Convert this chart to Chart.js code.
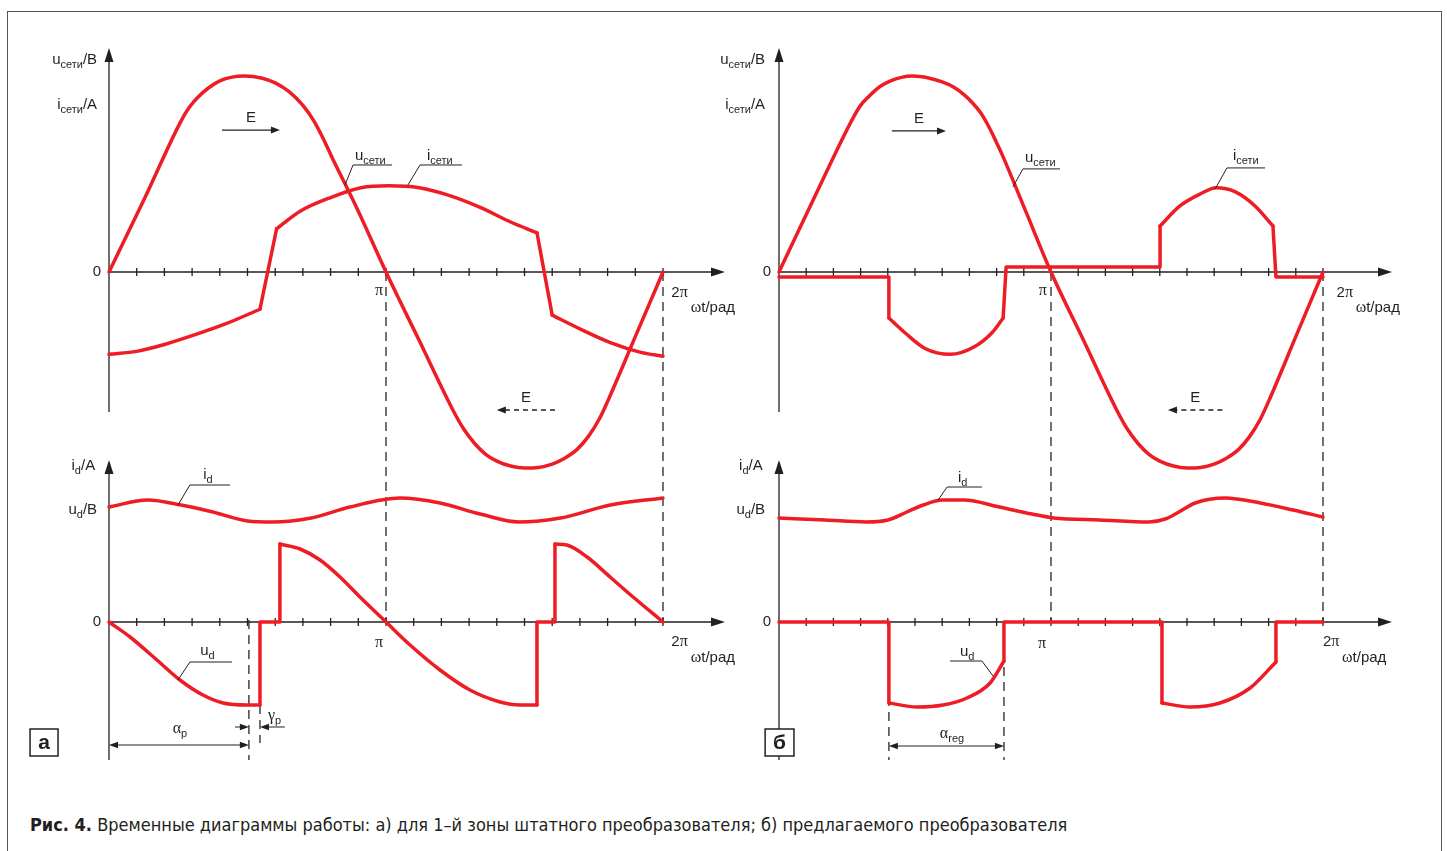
<!DOCTYPE html>
<html>
<head>
<meta charset="utf-8">
<script src="https://cdn.jsdelivr.net/npm/chart.js@4.4.1/dist/chart.umd.min.js"></script>
<style>
  body { margin: 0; background: #fff; width: 1447px; height: 851px; overflow: hidden; position: relative; }
  #frame { position: absolute; left: 7px; top: 11px; width: 1433px; height: 900px; border: 1px solid #555; }
  canvas { position: absolute; top: 0; }
  #cA { left: 0; }
  #cB { left: 700px; }
  #cap { position: absolute; left: 30px; top: 814px; font-family: "Liberation Sans Narrow", "DejaVu Sans Condensed", sans-serif; font-size: 18px; color: #231f20; white-space: nowrap; }
</style>
</head>
<body>
<div id="frame"></div>
<canvas id="cA" width="740" height="800"></canvas>
<canvas id="cB" width="740" height="800"></canvas>
<div id="cap"><b>Рис. 4.</b> Временные диаграммы работы: а) для 1–й зоны штатного преобразователя; б) предлагаемого преобразователя</div>

<script>
// x in units of pi (0..2 = 0..2π), top values relative to peak of u_сети, bottom in arbitrary units
// each series is a list of pieces; pieces join at their end points

// ---- panel а ----
const uNetA = [[[0,0],[0.13,0.38],[0.26,0.77],[0.29,0.84],[0.32,0.89],[0.36,0.94],[0.40,0.975],[0.44,0.993],[0.49,1.0],[0.55,0.99],[0.60,0.965],[0.65,0.92],[0.70,0.85],[0.74,0.77],[0.77,0.69],[0.80,0.60],[0.90,0.31],[1.0,0],
  [1.12,-0.35],[1.24,-0.70],[1.28,-0.80],[1.32,-0.875],[1.36,-0.93],[1.40,-0.965],[1.45,-0.99],[1.50,-1.0],[1.55,-0.997],[1.60,-0.98],[1.645,-0.95],[1.69,-0.905],[1.73,-0.84],[1.77,-0.75],[1.80,-0.66],[1.90,-0.33],[2.0,0]]];

const iNetA = [
  [[0,-0.42],[0.10,-0.405],[0.20,-0.37],[0.30,-0.325],[0.42,-0.265],[0.545,-0.19]],
  [[0.545,-0.19],[0.605,0.22]],
  [[0.605,0.22],[0.69,0.31],[0.80,0.38],[0.91,0.43],[1.01,0.44],[1.12,0.43],[1.23,0.39],[1.34,0.33],[1.45,0.255],[1.545,0.20]],
  [[1.545,0.20],[1.60,-0.22]],
  [[1.60,-0.22],[1.70,-0.29],[1.81,-0.36],[1.92,-0.41],[2.0,-0.43]]
];

const idA = [[[0,1.15],[0.14,1.22],[0.26,1.17],[0.375,1.10],[0.50,1.01],[0.59,1.0],[0.73,1.04],[0.87,1.15],[1.05,1.24],[1.195,1.19],[1.34,1.08],[1.48,1.0],[1.63,1.04],[1.81,1.17],[2.0,1.24]]];

const udA = [
  [[0,0],[0.076,-0.15],[0.173,-0.38],[0.256,-0.58],[0.339,-0.73],[0.412,-0.81],[0.498,-0.83],[0.545,-0.83]],
  [[0.545,-0.83],[0.545,0],[0.617,0],[0.617,0.78]],
  [[0.617,0.78],[0.69,0.73],[0.762,0.62],[0.834,0.45],[0.906,0.25],[1.0,0],[1.087,-0.23],[1.195,-0.48],[1.303,-0.68],[1.412,-0.80],[1.484,-0.83],[1.545,-0.83]],
  [[1.545,-0.83],[1.545,0],[1.61,0],[1.61,0.78]],
  [[1.61,0.78],[1.653,0.77],[1.726,0.65],[1.809,0.45],[1.892,0.25],[2.0,0]]
];

// ---- panel б ----
const uNetB = [[[0,0],[0.13,0.38],[0.27,0.78],[0.30,0.85],[0.33,0.895],[0.37,0.945],[0.41,0.975],[0.45,0.993],[0.49,1.0],[0.55,0.99],[0.60,0.97],[0.64,0.945],[0.68,0.905],[0.71,0.865],[0.74,0.815],[0.77,0.745],[0.80,0.66],[0.82,0.60],[0.91,0.30],[1.0,0],
  [1.12,-0.35],[1.24,-0.70],[1.28,-0.80],[1.32,-0.875],[1.36,-0.93],[1.40,-0.965],[1.45,-0.99],[1.50,-1.0],[1.55,-0.997],[1.60,-0.98],[1.645,-0.95],[1.69,-0.905],[1.73,-0.84],[1.77,-0.75],[1.80,-0.66],[1.90,-0.33],[2.0,0]]];

const iNetB = [
  [[0,-0.025],[0.404,-0.025],[0.404,-0.235]],
  [[0.404,-0.235],[0.463,-0.31],[0.537,-0.39],[0.629,-0.42],[0.72,-0.38],[0.783,-0.31],[0.824,-0.235]],
  [[0.824,-0.235],[0.835,0.025],[1.401,0.025],[1.401,0.235]],
  [[1.401,0.235],[1.474,0.337],[1.548,0.398],[1.607,0.43],[1.676,0.41],[1.75,0.337],[1.816,0.235]],
  [[1.816,0.235],[1.827,-0.025],[2.0,-0.025]]
];

const idB = [[[0,1.04],[0.17,1.02],[0.32,1.0],[0.40,1.02],[0.47,1.10],[0.53,1.17],[0.60,1.22],[0.68,1.22],[0.81,1.15],[0.93,1.08],[1.01,1.04],[1.18,1.02],[1.36,1.0],[1.42,1.03],[1.47,1.10],[1.53,1.19],[1.64,1.24],[1.77,1.19],[1.89,1.12],[2.0,1.05]]];

const udB = [
  [[0,0],[0.404,0],[0.404,-0.81]],
  [[0.404,-0.81],[0.507,-0.85],[0.603,-0.83],[0.691,-0.76],[0.776,-0.61],[0.827,-0.39]],
  [[0.827,-0.39],[0.827,0],[1.408,0],[1.408,-0.81]],
  [[1.408,-0.81],[1.511,-0.85],[1.621,-0.81],[1.732,-0.66],[1.827,-0.40]],
  [[1.827,-0.40],[1.827,0],[2.0,0]]
];

const xTicks = [0.1,0.2,0.3,0.4,0.5,0.6,0.7,0.8,0.9,1.0,1.1,1.2,1.3,1.4,1.5,1.6,1.7,1.8,1.9,2.0];
const piLabels = [[1, [['π','g']]], [2, [['2','n'],['π','g']]]];

const RED = '#ee1c25';
const INK = '#231f20';
const DASH = '#595959';
const SANS = '"Liberation Sans", Arial, sans-serif';
const SERIF = '"Liberation Serif", "Times New Roman", serif';

// canvas geometry: chart area rows 40..780, zero of top graph at 272, bottom graph at 622
const AREA_TOP = 40, AREA_BOT = 780;
const TOP_ZERO = 272, TOP_UNIT = 196, BOT_ZERO = 622, BOT_UNIT = 100;

const panelA = {
  canvas: 'cA', series: [uNetA, iNetA, idA, udA],
  left: 109, unit: 277, arrowEnd: 725, width: 740,
  axisLabels: [
    ['T', -0.043, 1.06, [['u','n'],['сети','s'],['/B','n']]],
    ['T', -0.043, 0.83, [['i','n'],['сети','s'],['/A','n']]],
    ['B', -0.05, 1.52, [['i','n'],['d','s'],['/A','n']]],
    ['B', -0.043, 1.08, [['u','n'],['d','s'],['/B','n']]]
  ],
  piPos: { T: [0.975, -0.117, 2.03, -0.128, 2.10, -0.204], B: [0.975, -0.25, 2.03, -0.24, 2.10, -0.40] },
  eArrows: [['T', 0.408, 0.617, 0.724, false], ['T', 1.61, 1.40, -0.704, true]],
  callouts: [
    ['T', 0.888, 0.571, [['u','n'],['сети','s']], [[0.852,0.444],[0.881,0.546],[1.022,0.546]]],
    ['T', 1.148, 0.571, [['i','n'],['сети','s']], [[1.079,0.444],[1.123,0.546],[1.274,0.546]]],
    ['B', 0.34, 1.43, [['i','n'],['d','s']], [[0.249,1.17],[0.292,1.37],[0.437,1.37]]],
    ['B', 0.329, -0.33, [['u','n'],['d','s']], [[0.249,-0.58],[0.292,-0.40],[0.444,-0.40]]]
  ],
  guides: [[0.505, 0.02, -1.38], [0.545, -0.83, -1.21]],
  dims: [[0, 0.505, -1.23, 0.256, -1.11, [['α','g'],['p','s']]]],
  gamma: { v: -1.05, a: [0.455, 0.505], b: [0.635, 0.545], x: 0.574, lv: -0.98, parts: [['γ','g'],['p','s']] },
  box: [-0.285, -0.184, -1.07, -1.34, 'а']
};

const panelB = {
  canvas: 'cB', series: [uNetB, iNetB, idB, udB],
  left: 79, unit: 272, arrowEnd: 692, width: 740,
  axisLabels: [
    ['T', -0.051, 1.06, [['u','n'],['сети','s'],['/B','n']]],
    ['T', -0.051, 0.83, [['i','n'],['сети','s'],['/A','n']]],
    ['B', -0.06, 1.52, [['i','n'],['d','s'],['/A','n']]],
    ['B', -0.051, 1.08, [['u','n'],['d','s'],['/B','n']]]
  ],
  piPos: { T: [0.97, -0.117, 2.05, -0.128, 2.12, -0.204], B: [0.967, -0.26, 2.0, -0.24, 2.07, -0.40] },
  eArrows: [['T', 0.415, 0.614, 0.72, false], ['T', 1.63, 1.43, -0.704, true]],
  callouts: [
    ['T', 0.904, 0.561, [['u','n'],['сети','s']], [[0.86,0.434],[0.897,0.526],[1.033,0.526]]],
    ['T', 1.669, 0.571, [['i','n'],['сети','s']], [[1.603,0.423],[1.647,0.531],[1.787,0.531]]],
    ['B', 0.658, 1.40, [['i','n'],['d','s']], [[0.585,1.22],[0.618,1.35],[0.746,1.35]]],
    ['B', 0.665, -0.34, [['u','n'],['d','s']], [[0.787,-0.54],[0.746,-0.39],[0.629,-0.39]]]
  ],
  guides: [[0.404, 0, -1.38], [0.827, 0, -1.38]],
  dims: [[0.404, 0.827, -1.24, 0.636, -1.16, [['α','g'],['reg','s']]]],
  gamma: null,
  box: [-0.051, 0.055, -1.07, -1.34, 'б']
};

function font(kind) {
  if (kind === 's') return '11px ' + SANS;
  if (kind === 'g') return '16px ' + SERIF;
  return '15px ' + SANS;
}

function rich(ctx, x, y, parts, align) {
  let w = 0;
  parts.forEach(p => { ctx.font = font(p[1]); w += ctx.measureText(p[0]).width; });
  let cx = align === 'right' ? x - w : align === 'center' ? x - w / 2 : x;
  parts.forEach(p => {
    ctx.font = font(p[1]);
    ctx.fillText(p[0], cx, y + (p[1] === 's' ? 4 : 0));
    cx += ctx.measureText(p[0]).width;
  });
}

function line(ctx, x1, y1, x2, y2) {
  ctx.beginPath(); ctx.moveTo(x1, y1); ctx.lineTo(x2, y2); ctx.stroke();
}

function head(ctx, x, y, dx, dy, len, hw) {
  ctx.beginPath();
  ctx.moveTo(x, y);
  ctx.lineTo(x - dx * len - dy * hw, y - dy * len + dx * hw);
  ctx.lineTo(x - dx * len + dy * hw, y - dy * len - dx * hw);
  ctx.closePath(); ctx.fill();
}

function panelPlugin(p) {
  return {
    id: 'panel',
    beforeDatasetsDraw(chart) {
      const ctx = chart.ctx, sc = chart.scales;
      const X = v => sc.x.getPixelForValue(v);
      const S = { T: v => sc.yT.getPixelForValue(v), B: v => sc.yB.getPixelForValue(v) };
      const xMax = sc.x.max;
      ctx.save();
      ctx.strokeStyle = DASH; ctx.lineWidth = 1.7; ctx.setLineDash([9, 6]);
      [1, 2].forEach(v => line(ctx, X(v), S.T(0), X(v), S.B(0)));
      p.guides.forEach(g => line(ctx, X(g[0]), S.B(g[1]), X(g[0]), S.B(g[2])));
      ctx.setLineDash([]);

      ctx.strokeStyle = INK; ctx.fillStyle = INK; ctx.lineWidth = 1.3;
      [['T', -0.714, 1.143], ['B', -1.38, 1.62]].forEach(([k, lo, hi]) => {
        const Y = S[k];
        line(ctx, X(0), Y(0), X(xMax) - 10, Y(0));
        head(ctx, X(xMax), Y(0), 1, 0, 14, 4.5);
        line(ctx, X(0), Y(lo), X(0), Y(hi) + 10);
        head(ctx, X(0), Y(hi), 0, -1, 14, 4.5);
        xTicks.forEach(t => line(ctx, X(t), Y(0) - 4, X(t), Y(0) + 4));
      });
      ctx.restore();
    },
    afterDatasetsDraw(chart) {
      const ctx = chart.ctx, sc = chart.scales;
      const X = v => sc.x.getPixelForValue(v);
      const S = { T: v => sc.yT.getPixelForValue(v), B: v => sc.yB.getPixelForValue(v) };
      ctx.save();
      ctx.fillStyle = INK; ctx.strokeStyle = INK; ctx.textBaseline = 'alphabetic'; ctx.textAlign = 'left';

      p.axisLabels.forEach(a => rich(ctx, X(a[1]), S[a[0]](a[2]), a[3], 'right'));
      ['T', 'B'].forEach(k => {
        const pp = p.piPos[k];
        ctx.textBaseline = 'middle';
        rich(ctx, X(0) - 8, S[k](0), [['0', 'n']], 'right');
        ctx.textBaseline = 'alphabetic';
        rich(ctx, X(pp[0]), S[k](pp[1]), piLabels[0][1], 'center');
        rich(ctx, X(pp[2]), S[k](pp[3]), piLabels[1][1], 'left');
        rich(ctx, X(pp[4]), S[k](pp[5]), [['ω', 'g'], ['t/рад', 'n']], 'left');
      });

      // E arrows
      p.eArrows.forEach(([k, x1, x2, v, dashed]) => {
        const y = S[k](v), dir = x2 > x1 ? 1 : -1;
        ctx.lineWidth = 1.3;
        ctx.setLineDash(dashed ? [5, 4] : []);
        line(ctx, X(x1), y, X(x2) - dir * 6, y);
        ctx.setLineDash([]);
        head(ctx, X(x2), y, dir, 0, 9, 3.5);
        rich(ctx, (X(x1) + X(x2)) / 2, y - 8, [['E', 'n']], 'center');
      });

      // callouts with leader lines
      p.callouts.forEach(([k, tx, tv, parts, pts]) => {
        rich(ctx, X(tx), S[k](tv), parts, 'left');
        ctx.lineWidth = 1;
        ctx.beginPath();
        pts.forEach((q, i) => i ? ctx.lineTo(X(q[0]), S[k](q[1])) : ctx.moveTo(X(q[0]), S[k](q[1])));
        ctx.stroke();
      });

      // dimension arrows
      ctx.lineWidth = 1;
      p.dims.forEach(([a, b, v, lx, lv, parts]) => {
        const y = S.B(v);
        line(ctx, X(a) + 4, y, X(b) - 4, y);
        head(ctx, X(a), y, -1, 0, 9, 3.2);
        head(ctx, X(b), y, 1, 0, 9, 3.2);
        rich(ctx, X(lx), S.B(lv), parts, 'center');
      });
      if (p.gamma) {
        const g = p.gamma, y = S.B(g.v);
        line(ctx, X(g.a[0]), y, X(g.a[1]) - 4, y);
        head(ctx, X(g.a[1]), y, 1, 0, 9, 3.2);
        line(ctx, X(g.b[0]), y, X(g.b[1]) + 4, y);
        head(ctx, X(g.b[1]), y, -1, 0, 9, 3.2);
        rich(ctx, X(g.x), S.B(g.lv), g.parts, 'left');
      }

      // panel letter box
      const bx = p.box, x1 = X(bx[0]), x2 = X(bx[1]), y1 = S.B(bx[2]), y2 = S.B(bx[3]);
      ctx.fillStyle = '#fff';
      ctx.fillRect(x1, y1, x2 - x1, y2 - y1);
      ctx.lineWidth = 1.5; ctx.strokeStyle = INK;
      ctx.strokeRect(x1, y1, x2 - x1, y2 - y1);
      ctx.fillStyle = INK; ctx.font = 'bold 21px ' + SANS;
      ctx.textAlign = 'center'; ctx.textBaseline = 'middle';
      ctx.fillText(bx[4], (x1 + x2) / 2, (y1 + y2) / 2 + 1);
      ctx.restore();
    }
  };
}

function lineSets(series, axis) {
  return series.flatMap(s => s.map(piece => ({
    data: piece.map(([x, y]) => ({ x, y })),
    yAxisID: axis,
    borderColor: RED,
    borderWidth: 3.5,
    borderCapStyle: 'round',
    borderJoinStyle: 'round',
    pointRadius: 0,
    cubicInterpolationMode: piece.length >= 5 ? 'monotone' : 'default',
    tension: 0,
    fill: false,
    clip: false
  })));
}

function buildPanel(p) {
  const right = p.width - p.arrowEnd;
  const xMax = (p.arrowEnd - p.left) / p.unit;
  new Chart(document.getElementById(p.canvas), {
    type: 'line',
    data: {
      datasets: [
        ...lineSets([p.series[0], p.series[1]], 'yT'),
        ...lineSets([p.series[2], p.series[3]], 'yB')
      ]
    },
    options: {
      responsive: false,
      animation: false,
      events: [],
      layout: { padding: { left: p.left, right: right, top: AREA_TOP, bottom: 800 - AREA_BOT } },
      plugins: { legend: { display: false }, tooltip: { enabled: false } },
      scales: {
        x: { type: 'linear', display: false, min: 0, max: xMax },
        yT: { type: 'linear', display: false, min: (TOP_ZERO - AREA_BOT) / TOP_UNIT, max: (TOP_ZERO - AREA_TOP) / TOP_UNIT },
        yB: { type: 'linear', display: false, min: (BOT_ZERO - AREA_BOT) / BOT_UNIT, max: (BOT_ZERO - AREA_TOP) / BOT_UNIT }
      }
    },
    plugins: [panelPlugin(p)]
  });
}

buildPanel(panelA);
buildPanel(panelB);
</script>
</body>
</html>
